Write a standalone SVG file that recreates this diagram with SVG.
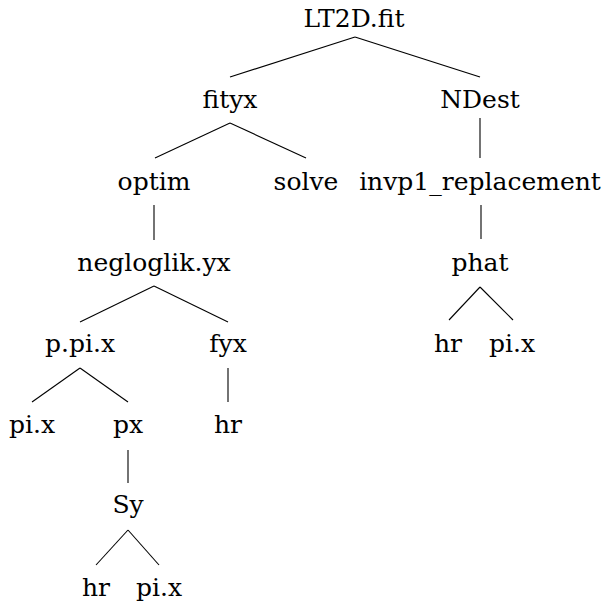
<svg xmlns="http://www.w3.org/2000/svg" width="603" height="611" viewBox="0 0 603 611">
<style>
.t{font-family:'DejaVu Serif',serif;font-size:25px;fill:#000;text-anchor:middle}
line{stroke:#000;stroke-width:1.1}
</style>
<rect width="603" height="611" fill="#fff"/>
<g id="connectors">
<line x1="355" y1="37" x2="230" y2="77"/>
<line x1="355" y1="37" x2="480" y2="77"/>
<line x1="230" y1="123" x2="155" y2="158"/>
<line x1="230" y1="123" x2="306" y2="158"/>
<line x1="480" y1="118" x2="480" y2="158"/>
<line x1="154" y1="205" x2="154" y2="240"/>
<line x1="481" y1="205" x2="481" y2="239"/>
<line x1="154" y1="286" x2="80" y2="322"/>
<line x1="154" y1="286" x2="228" y2="322"/>
<line x1="480" y1="287" x2="449" y2="320"/>
<line x1="480" y1="287" x2="513" y2="320"/>
<line x1="80" y1="368" x2="32" y2="402"/>
<line x1="80" y1="368" x2="128" y2="402"/>
<line x1="228" y1="368" x2="228" y2="402"/>
<line x1="128" y1="450" x2="128" y2="483"/>
<line x1="128" y1="530" x2="96" y2="565"/>
<line x1="128" y1="530" x2="159" y2="565"/>
</g>
<g id="n-root"><text class="t" x="354" y="27">LT2D.fit</text></g>
<g id="n-fityx"><text class="t" x="230" y="108">fityx</text></g>
<g id="n-ndest"><text class="t" x="480" y="108">NDest</text></g>
<g id="n-optim"><text class="t" x="154" y="190">optim</text></g>
<g id="n-solve"><text class="t" x="306" y="190">solve</text></g>
<g id="n-invp1"><text class="t" x="480" y="190">invp1_replacement</text></g>
<g id="n-negloglik"><text class="t" x="154" y="271">negloglik.yx</text></g>
<g id="n-phat"><text class="t" x="480" y="271">phat</text></g>
<g id="n-ppix"><text class="t" x="80" y="352">p.pi.x</text></g>
<g id="n-fyx"><text class="t" x="228" y="352">fyx</text></g>
<g id="n-hr1"><text class="t" x="448" y="352">hr</text></g>
<g id="n-pix1"><text class="t" x="512" y="352">pi.x</text></g>
<g id="n-pix2"><text class="t" x="32" y="433">pi.x</text></g>
<g id="n-px"><text class="t" x="128" y="433">px</text></g>
<g id="n-hr2"><text class="t" x="228" y="433">hr</text></g>
<g id="n-sy"><text class="t" x="128" y="513">Sy</text></g>
<g id="n-hr3"><text class="t" x="96" y="596">hr</text></g>
<g id="n-pix3"><text class="t" x="159" y="596">pi.x</text></g>
</svg>
